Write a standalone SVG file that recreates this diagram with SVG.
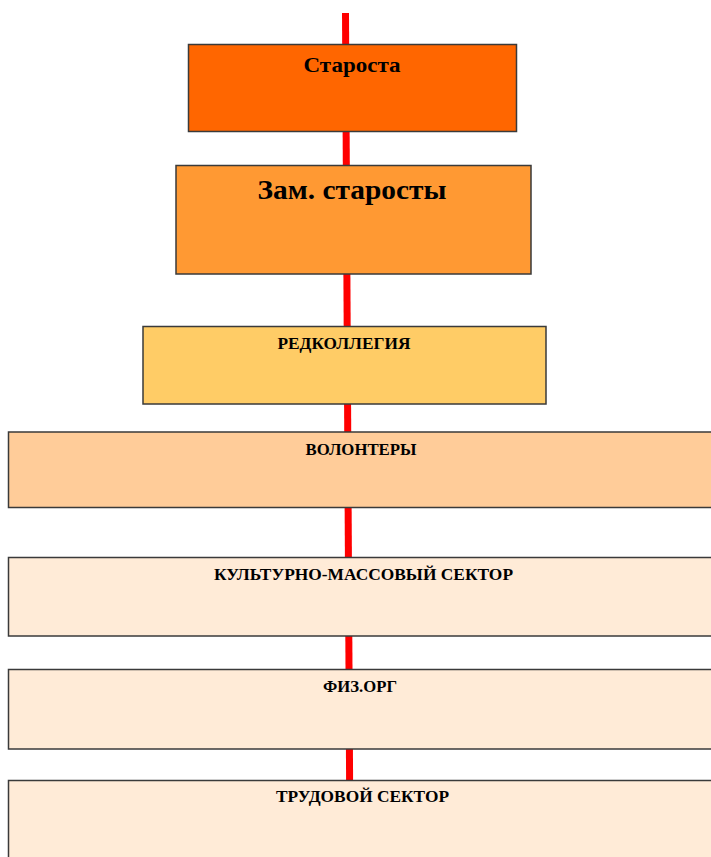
<svg xmlns="http://www.w3.org/2000/svg" width="711" height="857" viewBox="0 0 711 857">
<style>
.box{stroke:#3a3a3a;stroke-width:1.5}
.t{font-family:"Liberation Serif","Times New Roman",serif;font-weight:bold;fill:#000;text-anchor:middle}
.link{stroke:#ff0000;stroke-width:7;fill:none}
</style>
<rect width="711" height="857" fill="#ffffff"/>
<g id="connectors">
<line class="link" x1="345.5" y1="13" x2="350" y2="857"/>
</g>
<g id="starosta">
<rect class="box" x="188.5" y="44.5" width="328" height="87" fill="#ff6600"/>
<text class="t" x="352" y="72" font-size="22" textLength="97" lengthAdjust="spacingAndGlyphs">Староста</text>
</g>
<g id="zam">
<rect class="box" x="176" y="165.5" width="355" height="108.5" fill="#ff9933"/>
<text class="t" x="352" y="199" font-size="28" textLength="189" lengthAdjust="spacingAndGlyphs">Зам. старосты</text>
</g>
<g id="redkollegiya">
<rect class="box" x="143" y="326.5" width="403" height="77.5" fill="#ffcc66"/>
<text class="t" x="344" y="349" font-size="17" textLength="133" lengthAdjust="spacingAndGlyphs">РЕДКОЛЛЕГИЯ</text>
</g>
<g id="volontery">
<rect class="box" x="8.5" y="432" width="710" height="75.5" fill="#ffcc99"/>
<text class="t" x="361" y="455" font-size="17" textLength="111" lengthAdjust="spacingAndGlyphs">ВОЛОНТЕРЫ</text>
</g>
<g id="kultmass">
<rect class="box" x="8.5" y="557.5" width="710" height="78.5" fill="#ffebd7"/>
<text class="t" x="363.5" y="580" font-size="17" textLength="299" lengthAdjust="spacingAndGlyphs">КУЛЬТУРНО-МАССОВЫЙ СЕКТОР</text>
</g>
<g id="fizorg">
<rect class="box" x="8.5" y="669.5" width="710" height="79.5" fill="#ffebd7"/>
<text class="t" x="360" y="691.5" font-size="17" textLength="74" lengthAdjust="spacingAndGlyphs">ФИЗ.ОРГ</text>
</g>
<g id="trudovoy">
<rect class="box" x="8.5" y="780.5" width="710" height="90" fill="#ffebd7"/>
<text class="t" x="362.5" y="801.5" font-size="17" textLength="173" lengthAdjust="spacingAndGlyphs">ТРУДОВОЙ СЕКТОР</text>
</g>
</svg>
